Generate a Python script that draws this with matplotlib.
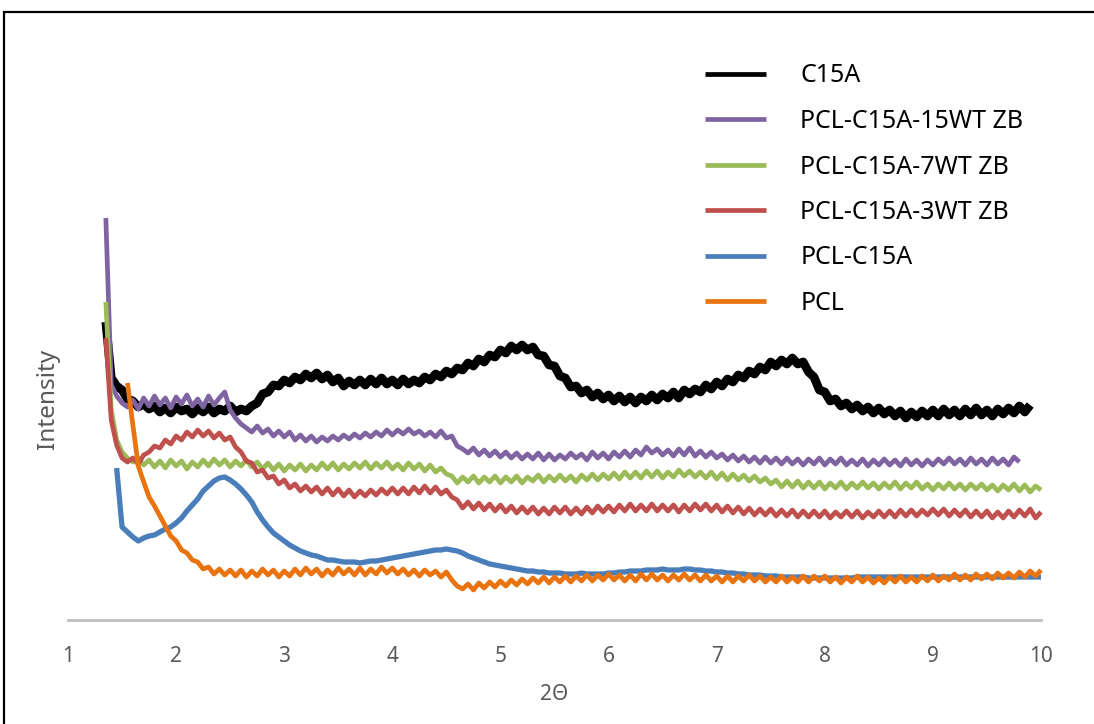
import numpy as np
import matplotlib
matplotlib.use("Agg")
import matplotlib.pyplot as plt
from matplotlib.patches import Rectangle

# ---- data (2-theta grid starts + intensity values, arbitrary units) ----
step = 0.05
labels = ["C15A", "PCL-C15A-15WT ZB", "PCL-C15A-7WT ZB", "PCL-C15A-3WT ZB", "PCL-C15A", "PCL"]
colors = ["#000000", "#8064A2", "#9BBB59", "#C0504D", "#4A7EBB", "#E8730F"]

c15a_start = 1.35
c15a = [298, 242, 234, 230, 221, 219, 213, 216, 211, 214, 208, 212, 207, 213, 209, 211, 206, 212, 208, 213,
        207, 211, 209, 214, 208, 211, 209, 214, 217, 226, 228, 235, 234, 240, 237, 243, 240, 246, 242, 247,
        241, 245, 238, 242, 234, 239, 235, 240, 235, 241, 236, 242, 236, 240, 235, 241, 236, 240, 237, 243,
        240, 246, 243, 249, 246, 252, 250, 257, 254, 261, 258, 265, 263, 270, 267, 274, 270, 275, 270, 273,
        265, 264, 255, 254, 244, 242, 233, 234, 227, 230, 223, 227, 221, 225, 219, 224, 218, 223, 217, 223,
        219, 225, 220, 226, 222, 228, 222, 230, 226, 231, 228, 235, 231, 238, 234, 241, 238, 245, 242, 249,
        246, 253, 250, 258, 254, 260, 256, 262, 256, 258, 248, 243, 230, 228, 219, 221, 214, 217, 211, 215,
        209, 213, 207, 212, 206, 210, 204, 209, 202, 208, 203, 209, 204, 210, 204, 211, 205, 210, 204, 211,
        205, 212, 205, 210, 204, 211, 206, 212, 207, 214, 208, 215]

zb15_start = 1.35
zb15 = [402, 235, 224, 217, 213, 220, 211, 222, 214, 224, 215, 222, 212, 223, 216, 225, 214, 221, 213, 224,
        215, 222, 228, 210, 202, 196, 192, 188, 194, 187, 191, 184, 189, 183, 188, 180, 185, 179, 184, 178,
        183, 179, 184, 180, 185, 181, 186, 182, 187, 183, 188, 184, 190, 185, 190, 186, 191, 186, 189, 184,
        188, 183, 189, 182, 184, 174, 171, 167, 172, 165, 170, 164, 169, 163, 168, 162, 167, 161, 166, 161,
        167, 160, 166, 160, 165, 161, 167, 162, 166, 160, 168, 162, 167, 161, 168, 163, 169, 163, 170, 165,
        173, 167, 171, 165, 170, 164, 171, 165, 172, 164, 169, 163, 168, 162, 166, 160, 165, 159, 164, 158,
        163, 157, 163, 157, 162, 156, 162, 156, 161, 155, 161, 156, 162, 155, 161, 156, 162, 155, 160, 155,
        161, 154, 160, 155, 161, 155, 160, 154, 161, 155, 160, 154, 160, 155, 161, 156, 162, 156, 161, 155,
        162, 156, 161, 155, 162, 156, 161, 155, 163, 158]

zb7_start = 1.35
zb7 = [318, 210, 180, 168, 162, 158, 162, 155, 160, 153, 159, 152, 160, 154, 159, 151, 158, 153, 160, 154,
       161, 155, 160, 153, 159, 154, 160, 153, 158, 151, 157, 150, 156, 149, 155, 150, 156, 149, 155, 150,
       157, 151, 157, 150, 156, 151, 157, 152, 158, 151, 157, 152, 158, 151, 156, 150, 157, 151, 156, 149,
       155, 148, 152, 146, 144, 137, 143, 138, 144, 137, 143, 138, 144, 137, 143, 138, 144, 137, 143, 139,
       145, 138, 144, 139, 145, 139, 144, 138, 145, 140, 146, 140, 146, 141, 147, 141, 148, 142, 148, 142,
       149, 143, 149, 142, 148, 143, 150, 144, 149, 143, 148, 142, 148, 141, 147, 140, 146, 140, 145, 139,
       144, 138, 142, 136, 140, 133, 139, 133, 139, 132, 138, 132, 138, 131, 137, 132, 138, 131, 137, 132,
       138, 132, 137, 131, 137, 132, 138, 131, 137, 132, 138, 131, 136, 130, 136, 131, 137, 131, 136, 130,
       136, 131, 136, 130, 135, 129, 135, 130, 136, 129, 135, 128, 134, 130]

zb3_start = 1.35
zb3 = [282, 200, 175, 162, 158, 162, 156, 165, 168, 174, 172, 180, 176, 184, 180, 188, 183, 190, 184, 189,
       182, 187, 180, 183, 173, 168, 159, 157, 148, 150, 142, 144, 136, 140, 132, 136, 129, 134, 128, 133,
       126, 132, 125, 131, 124, 130, 123, 129, 124, 130, 125, 131, 126, 132, 126, 132, 126, 133, 127, 134,
       127, 133, 126, 130, 123, 120, 112, 118, 111, 117, 110, 116, 109, 115, 108, 114, 107, 113, 107, 113,
       106, 112, 106, 113, 107, 113, 106, 112, 106, 113, 107, 114, 108, 114, 108, 115, 109, 116, 109, 115,
       109, 116, 109, 115, 109, 115, 108, 115, 109, 116, 110, 116, 109, 115, 108, 114, 107, 113, 106, 112,
       105, 111, 105, 111, 104, 110, 104, 110, 103, 109, 103, 109, 103, 109, 102, 108, 103, 109, 103, 109,
       102, 108, 103, 109, 103, 109, 103, 110, 104, 110, 104, 110, 105, 111, 105, 111, 104, 110, 104, 110,
       103, 109, 103, 109, 102, 108, 102, 109, 103, 110, 104, 111, 102, 108]

pcl_c15a_start = 1.45
pcl_c15a = [152, 93, 88, 83, 79, 82, 84, 85, 88, 91, 93, 97, 102, 109, 115, 121, 129, 134, 139, 142,
            143, 140, 136, 131, 125, 118, 108, 100, 93, 87, 83, 79, 75, 72, 69, 67, 65, 64, 62, 60,
            60, 59, 58, 58, 58, 57, 58, 59, 59, 60, 61, 62, 63, 64, 65, 66, 67, 68, 69, 70,
            70, 71, 70, 69, 67, 64, 62, 60, 58, 56, 55, 54, 53, 52, 51, 50, 49, 49, 48, 48,
            47, 47, 47, 46, 46, 46, 47, 46, 46, 46, 46, 47, 47, 48, 48, 49, 49, 49, 50, 50,
            50, 51, 50, 50, 50, 51, 51, 50, 50, 49, 49, 48, 48, 47, 47, 46, 46, 45, 45, 45,
            44, 44, 44, 43, 43, 43, 43, 43, 42, 42, 42, 42, 42, 42, 42, 42, 42, 43, 43, 43,
            43, 43, 43, 43, 43, 43, 43, 43, 43, 43, 43, 43, 43, 43, 43, 43, 43, 43, 43, 43,
            43, 43, 43, 43, 43, 43, 43, 43, 43, 43, 43, 43]

pcl_start = 1.55
pcl = [237, 195, 154, 138, 123, 114, 104, 94, 84, 79, 70, 67, 60, 58, 51, 53, 46, 51, 45, 50,
       44, 50, 43, 49, 44, 51, 45, 50, 43, 49, 44, 51, 45, 52, 46, 51, 44, 50, 45, 52,
       46, 51, 45, 52, 45, 51, 46, 53, 47, 52, 46, 51, 45, 50, 44, 50, 45, 49, 43, 48,
       40, 34, 31, 36, 30, 37, 32, 38, 33, 39, 34, 40, 35, 41, 36, 42, 37, 43, 37, 43,
       38, 44, 38, 44, 39, 45, 39, 45, 40, 46, 40, 45, 39, 45, 39, 46, 40, 46, 40, 45,
       39, 45, 40, 46, 40, 45, 39, 45, 39, 44, 38, 44, 38, 44, 39, 45, 39, 44, 38, 43,
       38, 44, 38, 43, 38, 44, 38, 44, 39, 44, 38, 43, 37, 43, 38, 44, 38, 43, 37, 42,
       37, 43, 38, 44, 38, 43, 38, 44, 39, 45, 39, 44, 40, 46, 40, 45, 40, 46, 41, 46,
       41, 47, 42, 47, 42, 48, 43, 49, 44, 50]

series = [
    (c15a_start, c15a, 6.3),
    (zb15_start, zb15, 3.4),
    (zb7_start, zb7, 3.4),
    (zb3_start, zb3, 3.4),
    (pcl_c15a_start, pcl_c15a, 3.8),
    (pcl_start, pcl, 3.4),
]

xticks = [1, 2, 3, 4, 5, 6, 7, 8, 9, 10]

# ---- figure ----
W, H = 1094, 724
fig = plt.figure(figsize=(W / 100, H / 100), dpi=100)
fig.patch.set_facecolor("white")

ax = fig.add_axes([68 / W, (H - 620) / H, (1041 - 68) / W, 420 / H])
ax.set_facecolor("none")

for (start, vals, lw), lab, col in zip(series, labels, colors):
    vals = np.asarray(vals, dtype=float)
    x = np.round(start + step * np.arange(len(vals)), 3)
    ax.plot(x, vals, color=col, lw=lw, label=lab, solid_joinstyle="round",
            solid_capstyle="butt", clip_on=False)

ax.set_xlim(1, 10)
ax.set_ylim(0, 420)
for s in ["top", "right", "left"]:
    ax.spines[s].set_visible(False)
ax.spines["bottom"].set_color("#BFBFBF")
ax.spines["bottom"].set_linewidth(2.0)
ax.set_yticks([])
ax.set_xticks(xticks)
ax.set_xticklabels([str(t) for t in xticks])
ax.tick_params(axis="x", length=0, pad=19, labelsize=15, labelcolor="#595959")
for t in ax.get_xticklabels():
    t.set_fontfamily(["Noto Sans", "DejaVu Sans"])

ax.set_xlabel("2\u0398", fontsize=15, color="#595959", labelpad=12,
              fontfamily=["Noto Sans", "DejaVu Sans"])
fig.text(48 / W, 1 - 399 / H, "Intensity", rotation=90, ha="center", va="center",
         fontsize=17.5, color="#595959", fontfamily=["Noto Sans", "DejaVu Sans"])

leg = fig.legend(loc="upper left", bbox_to_anchor=(682 / W, 1 - 41 / H), frameon=False,
                 prop={"family": ["Noto Sans", "DejaVu Sans"], "size": 18},
                 handlelength=2.44, handletextpad=1.4, labelspacing=0.82)
for h in leg.get_lines():
    h.set_linewidth(3.4)

# outer frame (left and top edges visible)
fig.patches.append(Rectangle((4 / W, -0.05), 1.2, (H - 12) / H + 0.05,
                             transform=fig.transFigure, fill=False,
                             edgecolor="black", linewidth=1.6))

fig.savefig("out.png", dpi=100)
